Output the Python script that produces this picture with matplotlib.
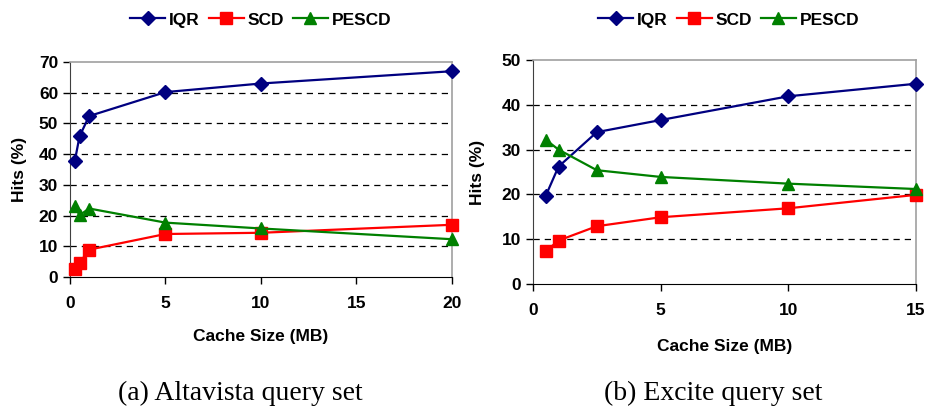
import matplotlib
matplotlib.use("Agg")
import matplotlib.pyplot as plt
from matplotlib.ticker import MultipleLocator


# Altavista query set
ALTA_SIZE = [0.25, 0.5, 1, 5, 10, 20]
ALTA_IQR = [37.7, 45.8, 52.4, 60.2, 63.0, 67.0]
ALTA_SCD = [2.7, 4.6, 8.9, 14.0, 14.4, 17.0]
ALTA_PESCD = [23.1, 20.1, 22.3, 17.7, 15.8, 12.3]

# Excite query set
EXC_SIZE = [0.5, 1, 2.5, 5, 10, 15]
EXC_IQR = [19.7, 26.2, 33.9, 36.6, 41.9, 44.7]
EXC_SCD = [7.3, 9.7, 12.9, 14.9, 16.9, 19.9]
EXC_PESCD = [32.2, 30.0, 25.4, 23.9, 22.4, 21.2]

SERIES_NAMES = ["IQR", "SCD", "PESCD"]
COLORS = ["#000080", "#FF0000", "#008000"]
MARKERS = ["D", "s", "^"]
MSIZES = [7, 8.5, 8.5]

SANS = ["Liberation Sans", "DejaVu Sans"]
SERIF = ["Liberation Serif", "DejaVu Serif"]

TICK_FS = 12.5
LABEL_FS = 12.5

W, H = 928, 412


def px_axes(fig, x0, x1, y_top, y_bot):
    return fig.add_axes([x0 / W, 1 - y_bot / H, (x1 - x0) / W, (y_bot - y_top) / H])


def style_axes(ax, xmax, ymax):
    ax.set_xlim(0, xmax)
    ax.set_ylim(0, ymax)
    ax.xaxis.set_major_locator(MultipleLocator(5))
    ax.yaxis.set_major_locator(MultipleLocator(10))
    for side in ["top", "right"]:
        ax.spines[side].set_color("#a0a0a0")
        ax.spines[side].set_linewidth(1.2)
    ax.spines["left"].set_color("#404040")
    ax.spines["bottom"].set_color("black")
    ax.tick_params(direction="out", length=5, width=1, top=False, right=False)
    ax.tick_params(axis="x", pad=9)
    for lab in ax.get_xticklabels() + ax.get_yticklabels():
        lab.set_fontfamily(SANS)
        lab.set_fontweight("bold")
        lab.set_fontsize(TICK_FS)
    for y in range(10, ymax, 10):
        ax.axhline(y, color="black", lw=0.9, ls=(0, (5, 4)), zorder=1)


def draw_panel(fig, ax, sizes, series, xmax, ymax, legend_x, ylabel_x, xlabel_y, caption, caption_x):
    handles = []
    for vals, name, color, marker, ms in zip(series, SERIES_NAMES, COLORS, MARKERS, MSIZES):
        (h,) = ax.plot(sizes, vals, color=color, marker=marker, markersize=ms,
                       lw=1.6, label=name, zorder=3, clip_on=False)
        handles.append(h)
    style_axes(ax, xmax, ymax)
    ax.set_ylabel("Hits (%)", fontfamily=SANS, fontweight="bold", fontsize=LABEL_FS)
    ax.yaxis.set_label_coords(ylabel_x, 0.5)
    fig.legend(handles=handles, loc="center", bbox_to_anchor=(legend_x / W, 1 - 20 / H),
               ncol=3, frameon=False, handlelength=2.0, handletextpad=0.25, columnspacing=0.5,
               prop={"family": SANS, "weight": "bold", "size": LABEL_FS})
    pos = ax.get_position()
    fig.text(pos.x0 + pos.width / 2, 1 - xlabel_y / H,
             "Cache Size (MB)", ha="center", va="center",
             fontfamily=SANS, fontweight="bold", fontsize=LABEL_FS)
    fig.text(caption_x / W, 1 - 393 / H, caption, ha="center", va="center",
             fontfamily=SERIF, fontsize=20)


fig = plt.figure(figsize=(W / 100, H / 100), dpi=100)

ax1 = px_axes(fig, 70, 452, 62, 277)
draw_panel(fig, ax1, ALTA_SIZE, [ALTA_IQR, ALTA_SCD, ALTA_PESCD], 20, 70,
           261, -0.113, 336, "(a) Altavista query set", 240)

ax2 = px_axes(fig, 533, 916, 60, 284)
draw_panel(fig, ax2, EXC_SIZE, [EXC_IQR, EXC_SCD, EXC_PESCD], 15, 50,
           729, -0.125, 346, "(b) Excite query set", 713)

fig.savefig("out.png", dpi=100)
